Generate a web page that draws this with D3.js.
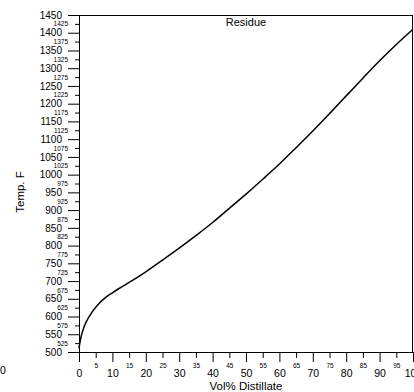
<!DOCTYPE html>
<html>
<head>
<meta charset="utf-8">
<script src="https://cdn.jsdelivr.net/npm/d3@7"></script>
<style>
  body { margin: 0; background: #fff; }
  svg { display: block; font-family: "Liberation Sans", Arial, sans-serif; }
</style>
</head>
<body>
<div id="chart"></div>
<script>
var svgWidth = 414;
var svgHeight = 392;

var margin = { top: 15, right: 1, bottom: 40, left: 79 };

var width = 334;
var height = 337;

// distillation curve
var volPct = [0, 0.5, 1, 2, 4, 6, 8, 10, 12, 15, 20, 25, 30, 35, 40, 45, 50, 55, 60, 65, 70, 75, 80, 85, 90, 95, 100];
var tempF = [510, 538, 556, 582, 614, 637, 654, 667, 679, 696, 726, 759, 793, 828, 865, 905, 945, 987, 1030, 1076, 1123, 1172, 1222, 1272, 1321, 1367, 1410];

var yMajorTicks = d3.range(500, 1451, 50);
var yMinorTicks = d3.range(525, 1426, 50);
var xMajorTicks = d3.range(0, 101, 10);
var xMinorTicks = d3.range(5, 96, 10);

var svg = d3.select("#chart")
  .append("svg")
  .attr("width", svgWidth)
  .attr("height", svgHeight);

var chartGroup = svg.append("g")
  .attr("transform", `translate(${margin.left}, ${margin.top})`);

var xScale = d3.scaleLinear().domain([0, 100]).range([0, width]);
var yScale = d3.scaleLinear().domain([500, 1450]).range([height, 0]);

// y axis: major and minor ticks with their own labels
var yMajor = chartGroup.append("g")
  .call(d3.axisLeft(yScale).tickValues(yMajorTicks).tickSize(11).tickPadding(6).tickFormat(d3.format("d")));
yMajor.selectAll("text").attr("font-size", "10px");

var yMinor = chartGroup.append("g")
  .call(d3.axisLeft(yScale).tickValues(yMinorTicks).tickSize(4).tickPadding(7).tickFormat(d3.format("d")));
yMinor.selectAll("text").attr("font-size", "6.5px");

// x axis
var xMajor = chartGroup.append("g")
  .attr("transform", `translate(0, ${height})`)
  .call(d3.axisBottom(xScale).tickValues(xMajorTicks).tickSize(10).tickPadding(8).tickFormat(d3.format("d")));
xMajor.selectAll("text").attr("font-size", "10.5px");

var xMinor = chartGroup.append("g")
  .attr("transform", `translate(0, ${height})`)
  .call(d3.axisBottom(xScale).tickValues(xMinorTicks).tickSize(6).tickPadding(5).tickFormat(d3.format("d")));
xMinor.selectAll("text").attr("font-size", "6.5px");

chartGroup.selectAll(".domain").remove();
chartGroup.selectAll(".tick line").attr("stroke", "#000");
chartGroup.selectAll(".tick text").attr("fill", "#000").attr("font-family", "Liberation Sans, Arial, sans-serif");

// frame
chartGroup.append("rect")
  .attr("x", 0.5)
  .attr("y", 0.5)
  .attr("width", width - 1)
  .attr("height", height)
  .attr("fill", "none")
  .attr("stroke", "#000");

// curve
var line = d3.line()
  .x((d, i) => xScale(volPct[i]))
  .y(d => yScale(d))
  .curve(d3.curveCatmullRom.alpha(0.5));

chartGroup.append("path")
  .datum(tempF)
  .attr("d", line)
  .attr("fill", "none")
  .attr("stroke", "#000")
  .attr("stroke-width", 1.5);

chartGroup.append("text")
  .attr("x", width / 2)
  .attr("y", 11)
  .attr("text-anchor", "middle")
  .attr("font-size", "11px")
  .text("Residue");

// axis titles
svg.append("text")
  .attr("x", margin.left + width / 2)
  .attr("y", 390)
  .attr("text-anchor", "middle")
  .attr("font-size", "11.5px")
  .text("Vol% Distillate");

svg.append("text")
  .attr("transform", "translate(24, 192) rotate(-90)")
  .attr("text-anchor", "middle")
  .attr("font-size", "11.5px")
  .text("Temp. F");

// stray label at bottom left
svg.append("text")
  .attr("x", 0)
  .attr("y", 374)
  .attr("font-size", "10.5px")
  .text("0");
</script>
</body>
</html>
